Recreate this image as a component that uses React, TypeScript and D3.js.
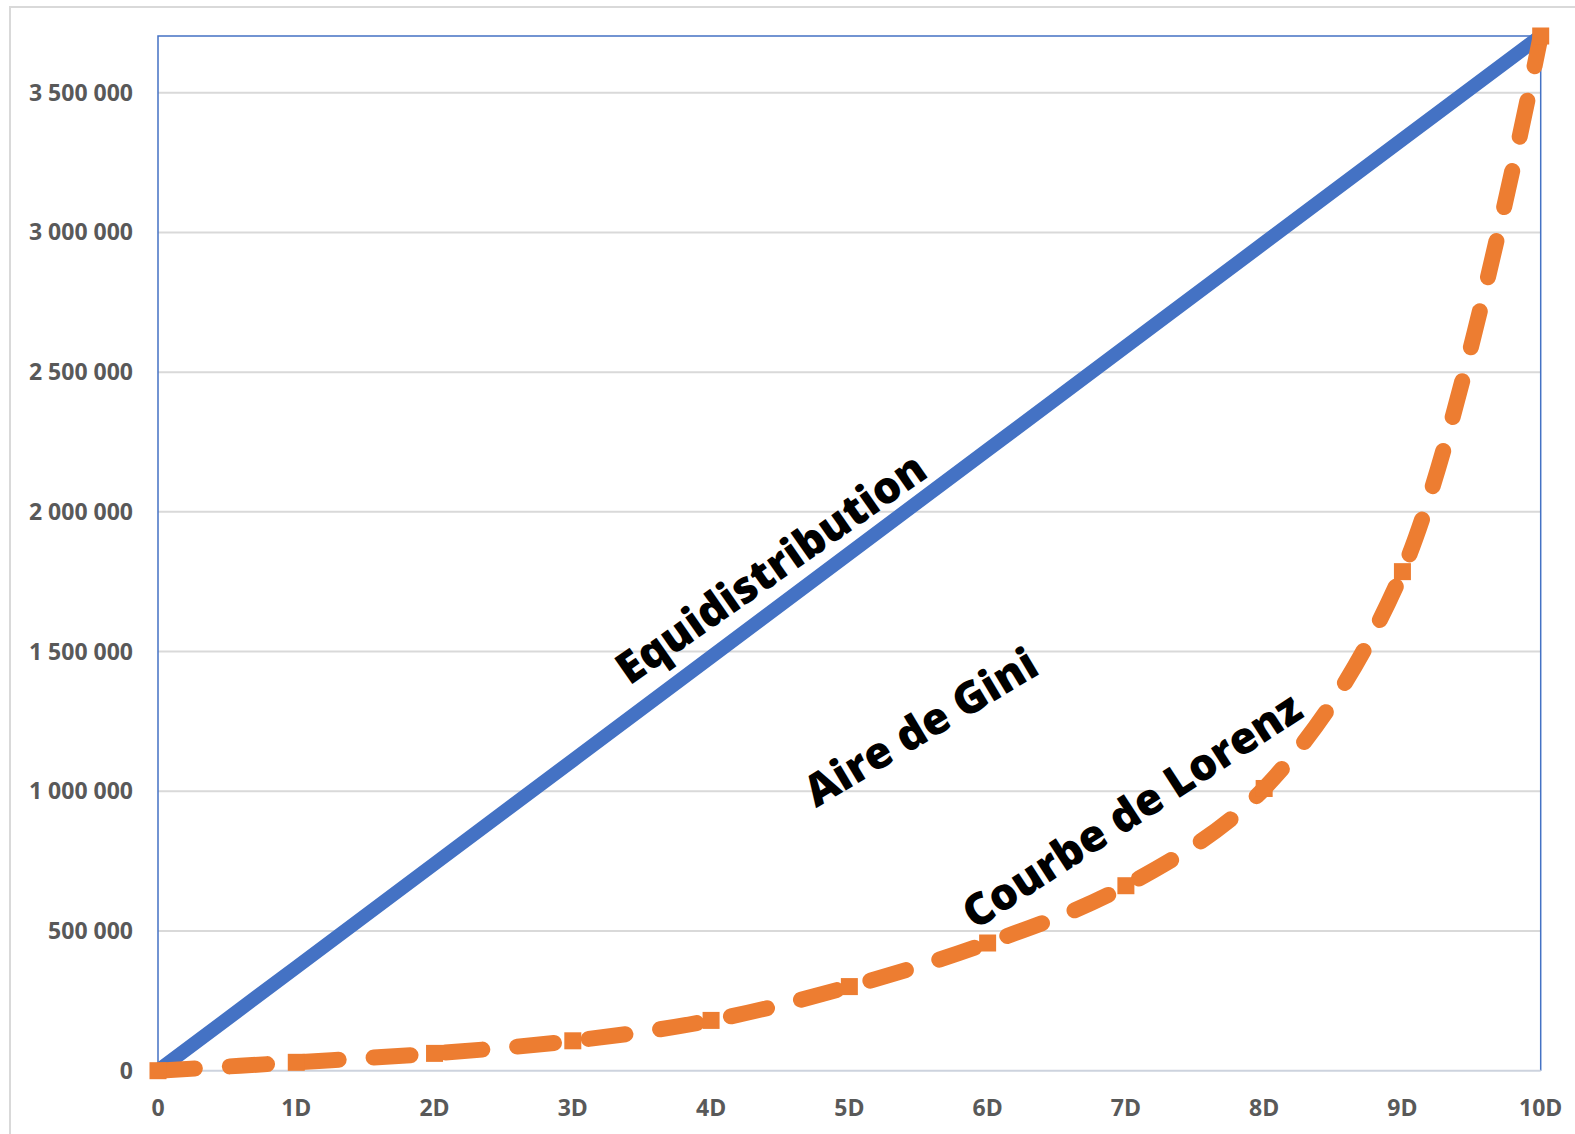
import React from 'react';
import * as d3 from 'd3';

const categories = ['0', '1D', '2D', '3D', '4D', '5D', '6D', '7D', '8D', '9D', '10D'];
const equidistribution = [0, 370300, 740600, 1110900, 1481200, 1851500, 2221800, 2592100, 2962400, 3332700, 3703000];
const lorenz = [0, 30000, 62000, 107000, 180000, 301000, 457000, 662000, 1010000, 1786000, 3703000];
const yTicks = [0, 500000, 1000000, 1500000, 2000000, 2500000, 3000000, 3500000];
const yMax = 3703000;

const annotations = [
  { text: 'Equidistribution', cx: 770, cy: 567, angle: -35 },
  { text: 'Aire de Gini', cx: 920, cy: 726, angle: -31 },
  { text: 'Courbe de Lorenz', cx: 1131, cy: 809, angle: -33 },
];

const W = 1575;
const H = 1134;
const plot = { left: 158, right: 1540.7, top: 36, bottom: 1070.7 };
const BLUE = '#4472C4';
const ORANGE = '#ED7D31';
const FONT = "'Open Sans', 'DejaVu Sans', sans-serif";

export default function App() {
  const x = d3.scalePoint<string>().domain(categories).range([plot.left, plot.right]).padding(0);
  const y = d3.scaleLinear().domain([0, yMax]).range([plot.bottom, plot.top]);
  const fmt = (v: number) => d3.format(',')(v).replace(/,/g, ' ');
  const line = d3
    .line<number>()
    .x((_, i) => x(categories[i]) as number)
    .y((d) => y(d));
  const smooth = d3
    .line<number>()
    .x((_, i) => x(categories[i]) as number)
    .y((d) => y(d))
    .curve(d3.curveCatmullRom.alpha(0.5));

  return (
    <svg
      width={W}
      height={H}
      style={{ position: 'absolute', left: 0, top: 0, background: '#fff' }}
      fontFamily={FONT}
    >
      <rect x={0} y={0} width={W} height={H} fill="#fff" />
      {/* outer chart frame */}
      <rect x={10} y={7} width={W + 100} height={H + 100} fill="none" stroke="#d9d9d9" strokeWidth={2} />

      {/* gridlines */}
      {yTicks.filter((t) => t > 0).map((t) => (
        <line key={t} x1={plot.left} x2={plot.right} y1={y(t)} y2={y(t)} stroke="#d9d9d9" strokeWidth={2} />
      ))}

      {/* plot border */}
      <path
        d={`M${plot.left},${plot.bottom}V${plot.top}H${plot.right}V${plot.bottom}`}
        fill="none"
        stroke={BLUE}
        strokeWidth={1.5}
      />
      {/* x axis line */}
      <line x1={plot.left} x2={plot.right} y1={plot.bottom} y2={plot.bottom} stroke="#cdd3de" strokeWidth={2} />

      {/* y tick labels */}
      {yTicks.map((t) => (
        <text key={t} x={133} y={y(t) + 8} textAnchor="end" fontSize={23} fontWeight={700} fill="#595959">
          {fmt(t)}
        </text>
      ))}

      {/* x tick labels */}
      {categories.map((c) => (
        <text key={c} x={x(c)} y={1116} textAnchor="middle" fontSize={23} fontWeight={700} fill="#595959">
          {c}
        </text>
      ))}

      {/* equidistribution */}
      <path d={line(equidistribution) || ''} fill="none" stroke={BLUE} strokeWidth={14} strokeLinecap="butt" strokeLinejoin="round" />

      {/* lorenz */}
      <path
        d={smooth(lorenz) || ''}
        fill="none"
        stroke={ORANGE}
        strokeWidth={16}
        strokeDasharray="37 35"
        strokeLinecap="round"
        strokeLinejoin="round"
      />
      {lorenz.map((v, i) => (
        <rect
          key={i}
          x={(x(categories[i]) as number) - 8.5}
          y={y(v) - 8.5}
          width={17}
          height={17}
          fill={ORANGE}
        />
      ))}

      {/* annotations */}
      {annotations.map((a) => (
        <text
          key={a.text}
          x={0}
          y={0}
          transform={`translate(${a.cx},${a.cy}) rotate(${a.angle})`}
          textAnchor="middle"
          dominantBaseline="central"
          fontSize={44}
          fontWeight={800}
          fill="#000"
        >
          {a.text}
        </text>
      ))}
    </svg>
  );
}
